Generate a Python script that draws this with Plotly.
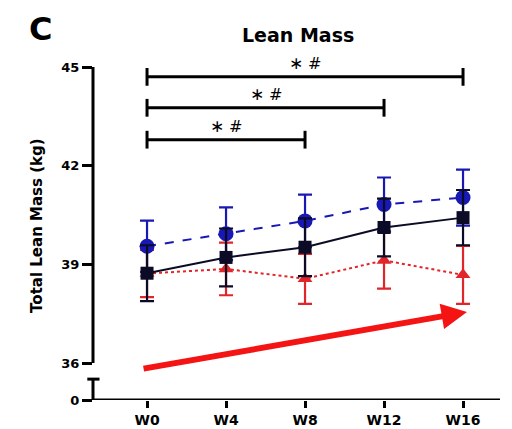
import plotly.graph_objects as go

weeks = ["W0", "W4", "W8", "W12", "W16"]
blue_mean = [39.55, 39.93, 40.32, 40.82, 41.03]
blue_err = [0.78, 0.80, 0.80, 0.82, 0.85]
black_mean = [38.73, 39.21, 39.52, 40.12, 40.42]
black_err = [0.85, 0.88, 0.88, 0.88, 0.84]
red_mean = [38.72, 38.86, 38.56, 39.12, 38.68]
red_err = [0.72, 0.80, 0.76, 0.86, 0.88]

# significance brackets: (start index, end index, level)
br_start = [0, 0, 0]
br_end = [4, 3, 2]
br_level = [44.70, 43.76, 42.79]
br_label = "<span style='font-size:17px'>∗</span> <span style='font-size:16px'>#</span>"

ytick_vals = [36, 39, 42, 45]
y_zero_pos = 34.875
y_top = 45.365
break_top = 35.51

BLUE = "#1818b4"
BLACK = "#0b0b26"
RED = "#e0262a"
FONT = "DejaVu Sans"

x = list(range(len(weeks)))
fig = go.Figure()

def add_series(mean, err, color, symbol, size, dash, lw=2):
    fig.add_trace(go.Scatter(
        x=x, y=mean, mode="lines+markers",
        line=dict(color=color, width=lw, dash=dash),
        marker=dict(symbol=symbol, size=size, color=color),
        error_y=dict(type="data", array=err, visible=True, color=color,
                     thickness=2.2, width=7),
        cliponaxis=False,
    ))

add_series(red_mean, red_err, RED, "triangle-up", 13, "dot")
add_series(blue_mean, blue_err, BLUE, "circle", 15, "dash")
add_series(black_mean, black_err, BLACK, "square", 13, "solid")

shapes = []
# y axis upper segment
shapes.append(dict(type="line", xref="paper", yref="y", x0=0, x1=0,
                   y0=ytick_vals[0], y1=ytick_vals[-1], line=dict(color="black", width=3)))
# y axis lower segment (below break)
shapes.append(dict(type="line", xref="paper", yref="y", x0=0, x1=0,
                   y0=y_zero_pos, y1=break_top, line=dict(color="black", width=3)))
shapes.append(dict(type="line", xref="paper", yref="y", x0=-0.014, x1=0.016,
                   y0=break_top, y1=break_top, line=dict(color="black", width=3)))
# x axis
shapes.append(dict(type="line", xref="paper", yref="y", x0=0, x1=1,
                   y0=y_zero_pos, y1=y_zero_pos, line=dict(color="black", width=3)))

annotations = []
for s, e, lv in zip(br_start, br_end, br_level):
    shapes.append(dict(type="line", xref="x", yref="y", x0=s, x1=e, y0=lv, y1=lv,
                       line=dict(color="black", width=3)))
    for xe in (s, e):
        shapes.append(dict(type="line", xref="x", yref="y", x0=xe, x1=xe,
                           y0=lv - 0.27, y1=lv + 0.27, line=dict(color="black", width=3)))
    annotations.append(dict(x=(s + e) / 2, y=lv + 0.43, xref="x", yref="y",
                            text=br_label, showarrow=False, yanchor="middle",
                            font=dict(family=FONT, size=15, color="black")))

# red trend arrow
annotations.append(dict(x=4.05, y=37.55, ax=-0.063, ay=35.82, xref="x", yref="y",
                        axref="x", ayref="y", text="", showarrow=True,
                        arrowhead=2, arrowsize=0.85, arrowwidth=6, arrowcolor="#f41414",
                        standoff=0))

annotations.append(dict(x=0.504, y=1.058, xref="paper", yref="paper", text="<b>Lean Mass</b>",
                        xanchor="center", yanchor="middle",
                        showarrow=False, font=dict(family=FONT, size=19, color="black")))
annotations.append(dict(x=-0.130, y=1.075, xref="paper", yref="paper", text="<b>C</b>",
                        xanchor="center", yanchor="middle",
                        showarrow=False, font=dict(family=FONT, size=32, color="black")))
annotations.append(dict(x=-0.138, y=0.507, xref="paper", yref="paper",
                        text="<b>Total Lean Mass (kg)</b>", textangle=-90,
                        xanchor="center", yanchor="middle",
                        showarrow=False, font=dict(family=FONT, size=15, color="black")))

fig.update_layout(
    width=512, height=429,
    margin=dict(l=93, r=12, t=55, b=29),
    plot_bgcolor="white", paper_bgcolor="white",
    showlegend=False,
    shapes=shapes, annotations=annotations,
    xaxis=dict(range=[-0.684, 4.468], tickvals=x, ticktext=["<b>%s</b>" % w for w in weeks],
               ticks="outside", ticklen=7, tickwidth=2.5, tickcolor="black",
               showgrid=False, zeroline=False, showline=False, automargin=False,
               tickfont=dict(family=FONT, size=14, color="black")),
    yaxis=dict(range=[y_zero_pos, y_top], tickvals=[y_zero_pos] + ytick_vals,
               ticktext=["<b>0</b>"] + ["<b>%d</b>" % v for v in ytick_vals],
               ticks="outside", ticklen=10, tickwidth=2.5, tickcolor="black",
               showgrid=False, zeroline=False, showline=False, automargin=False,
               tickfont=dict(family=FONT, size=13, color="black")),
)

fig.write_html("out.html")
